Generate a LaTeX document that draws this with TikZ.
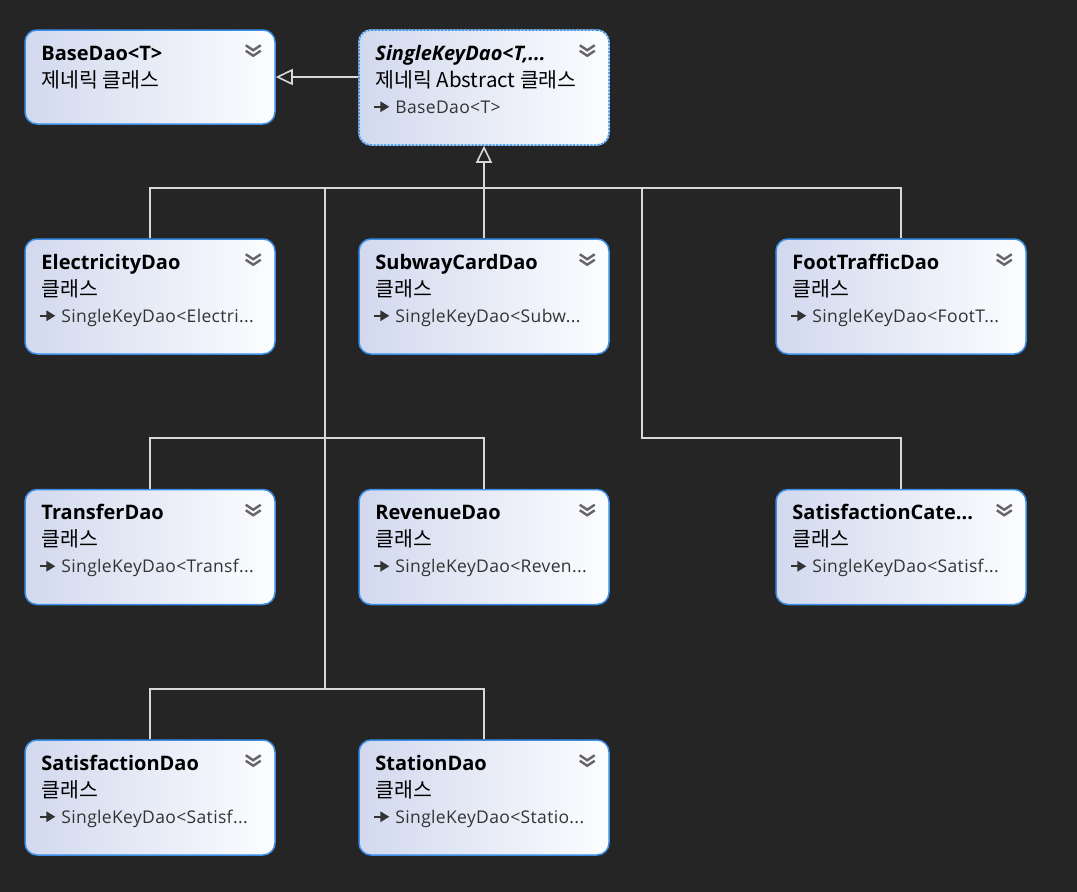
\documentclass[tikz,border=0pt]{standalone}
\usepackage{fontspec}
\setmainfont{Open Sans}
\newfontfamily\kr{Noto Sans CJK KR}
\usetikzlibrary{positioning}
\usetikzlibrary{arrows.meta}

\definecolor{canvas}{HTML}{252526}
\definecolor{daoblue}{HTML}{3A8EE6}
\definecolor{daoleft}{HTML}{D2D9EE}
\definecolor{daoright}{HTML}{FCFDFF}
\definecolor{wirecol}{HTML}{D8D8D8}
\definecolor{chevcol}{HTML}{666666}

\tikzset{
  dao/.style={draw=daoblue, line width=1.5pt, rounded corners=12pt, left color=daoleft, right color=daoright,
    minimum width=250pt, minimum height=115pt, inner sep=0pt},
  abstractdao/.style={dao, draw=daoblue!35!white, postaction={draw=daoblue, line width=1.5pt, dash pattern=on 2pt off 1.5pt}},
  daoname/.style={anchor=base west, inner sep=0pt, font=\fontsize{20}{22}\selectfont\bfseries},
  daokind/.style={anchor=base west, inner sep=0pt, font=\fontsize{20.5}{22}\selectfont\kr},
  daobase/.style={anchor=base west, inner sep=0pt, font=\fontsize{17.5}{20}\selectfont\addfontfeatures{LetterSpace=2}, text=black!80},
  chevron/.style={draw=chevcol, line width=2.4pt},
  wire/.style={draw=wirecol, line width=1.6pt},
  inherit/.style={wire, -{Triangle[open, length=17pt, width=16pt]}}
}

% name, title, kind, base
\newcommand{\daotext}[4]{%
  \node[daoname] (#1-name) at ([shift={(17,-31)}]#1.north west) {#2};
  \node[daokind] (#1-kind) at ([shift={(17,-58)}]#1.north west) {#3};
  \draw[chevron] ([shift={(-30,-16)}]#1.north east) -- ++(7.5,-5) -- ++(7.5,5)
    ([shift={(-30,-21.5)}]#1.north east) -- ++(7.5,-5) -- ++(7.5,5);
  \if\relax\detokenize{#4}\relax\else
    \draw[draw=black!80, line width=1.6pt] ([shift={(16,-77.5)}]#1.north west) -- ++(8,0);
    \fill[black!80] ([shift={(22,-72)}]#1.north west) -- ++(9,-5.5) -- ++(-9,-5.5) -- cycle;
    \node[daobase] (#1-base) at ([shift={(37,-84)}]#1.north west) {#4};
  \fi}

\begin{document}
\begin{tikzpicture}[x=1pt, y=1pt, node distance = 250.5pt]
  \path[use as bounding box, fill=canvas] (0,0) rectangle (1077,-892);

  \node[dao, minimum height=94pt] (basedao) at (150,-77) {};
  \node[abstractdao] (singlekey) at (484,-87.5) {};

  \node[dao] (electricity) at (150,-296.5) {};
  \node[dao] (subwaycard) [right of = electricity, node distance = 334pt] {};
  \node[dao] (foottraffic) [right of = subwaycard, node distance = 417pt] {};
  \node[dao] (transfer) [below of = electricity] {};
  \node[dao] (revenue) [below of = subwaycard] {};
  \node[dao] (satcategory) [below of = foottraffic] {};
  \node[dao] (satisfaction) [below of = transfer] {};
  \node[dao] (station) [below of = revenue] {};

  \daotext{basedao}{BaseDao<T>}{제네릭 클래스}{}
  \daotext{singlekey}{\textit{SingleKeyDao<T,...}}{제네릭 Abstract 클래스}{BaseDao<T>}
  \daotext{electricity}{ElectricityDao}{클래스}{SingleKeyDao<Electri...}
  \daotext{subwaycard}{SubwayCardDao}{클래스}{SingleKeyDao<Subw...}
  \daotext{foottraffic}{FootTrafficDao}{클래스}{SingleKeyDao<FootT...}
  \daotext{transfer}{TransferDao}{클래스}{SingleKeyDao<Transf...}
  \daotext{revenue}{RevenueDao}{클래스}{SingleKeyDao<Reven...}
  \daotext{satcategory}{SatisfactionCate...}{클래스}{SingleKeyDao<Satisf...}
  \daotext{satisfaction}{SatisfactionDao}{클래스}{SingleKeyDao<Satisf...}
  \daotext{station}{StationDao}{클래스}{SingleKeyDao<Statio...}

  \coordinate (hub) at (484,-188);
  \coordinate (midjoin) at (325,-438);
  \coordinate (rightjoin) at (642,-438);
  \coordinate (lowjoin) at (325,-689);

  \draw[inherit] (singlekey.west |- basedao.east) -- (basedao.east);
  \draw[inherit] (hub) -- (singlekey.south);
  \draw[wire] (electricity.north) |- (hub);
  \draw[wire] (subwaycard.north) -- (hub);
  \draw[wire] (foottraffic.north) |- (hub);
  \draw[wire] (transfer.north) |- (midjoin) |- (hub);
  \draw[wire] (revenue.north) |- (midjoin) |- (hub);
  \draw[wire] (satcategory.north) |- (rightjoin) |- (hub);
  \draw[wire] (satisfaction.north) |- (lowjoin) |- (hub);
  \draw[wire] (station.north) |- (lowjoin) |- (hub);
\end{tikzpicture}
\end{document}
